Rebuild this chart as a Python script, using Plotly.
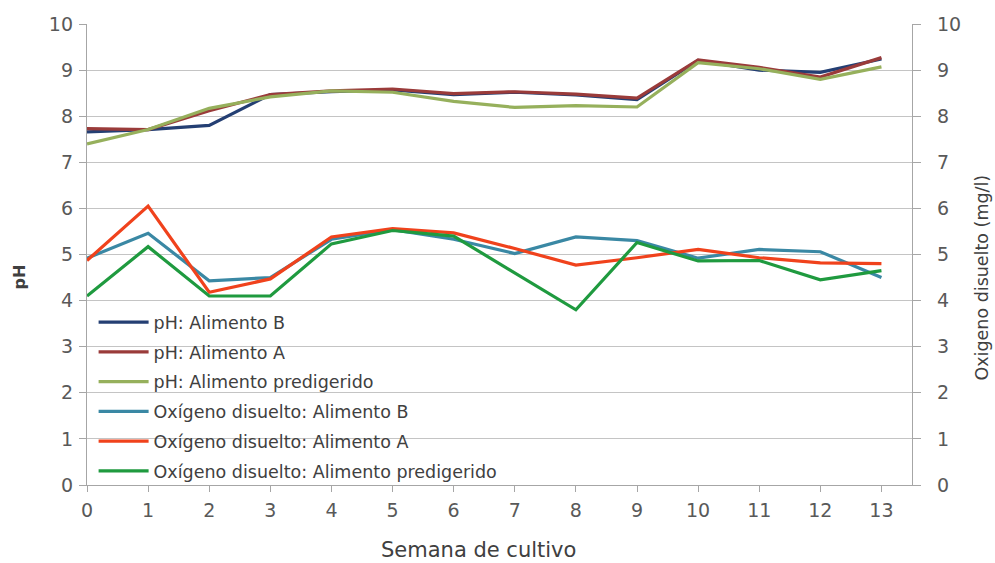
import plotly.graph_objects as go

# Semanas de cultivo
semanas = list(range(14))

# pH por tipo de alimento
ph_alimento_b = [7.66, 7.71, 7.80, 8.47, 8.53, 8.57, 8.47, 8.52, 8.46, 8.36, 9.21, 9.00, 8.95, 9.24]
ph_alimento_a = [7.73, 7.71, 8.12, 8.47, 8.55, 8.59, 8.49, 8.53, 8.48, 8.39, 9.22, 9.06, 8.85, 9.27]
ph_predigerido = [7.40, 7.71, 8.17, 8.42, 8.55, 8.52, 8.32, 8.19, 8.23, 8.20, 9.16, 9.03, 8.80, 9.07]

# Oxígeno disuelto (mg/l) por tipo de alimento
od_alimento_b = [4.92, 5.46, 4.43, 4.50, 5.33, 5.54, 5.33, 5.02, 5.38, 5.30, 4.92, 5.11, 5.06, 4.50]
od_alimento_a = [4.87, 6.05, 4.18, 4.47, 5.38, 5.56, 5.47, 5.13, 4.77, 4.93, 5.11, 4.93, 4.82, 4.80]
od_predigerido = [4.10, 5.17, 4.10, 4.10, 5.23, 5.52, 5.40, 4.60, 3.80, 5.26, 4.86, 4.87, 4.45, 4.65]

ticks_y = list(range(0, 11))
grid_y = list(range(1, 10))

series = [
    ("pH: Alimento B", ph_alimento_b, "#243f73", "y"),
    ("pH: Alimento A", ph_alimento_a, "#9a3b3a", "y"),
    ("pH: Alimento predigerido", ph_predigerido, "#96b05c", "y"),
    ("Oxígeno disuelto: Alimento B", od_alimento_b, "#3a88a4", "y2"),
    ("Oxígeno disuelto: Alimento A", od_alimento_a, "#f0421c", "y2"),
    ("Oxígeno disuelto: Alimento predigerido", od_predigerido, "#1f9a3f", "y2"),
]

FONT = "DejaVu Sans"
GRID = "#c4c4c4"
AXIS = "#a6a6a6"
TICK_FONT = dict(size=19, color="#595959", family=FONT)

fig = go.Figure()

# invisible trace that carries the horizontal gridlines axis
fig.add_trace(go.Scatter(x=[0], y=[0], yaxis="y3", mode="markers",
                         marker=dict(opacity=0), showlegend=False,
                         hoverinfo="skip"))

for i, (name, vals, color, ax) in enumerate(series):
    fig.add_trace(go.Scatter(
        x=semanas, y=vals, name=name, yaxis=ax, mode="lines",
        line=dict(color=color, width=3.2),
        legendgroup=f"g{i}",
    ))

fig.update_layout(
    width=995, height=563,
    margin=dict(l=87, r=83, t=24, b=78, autoexpand=False),
    paper_bgcolor="white", plot_bgcolor="white",
    font=dict(family=FONT, color="#595959"),
    xaxis=dict(
        range=[0, 13.5], tickmode="array", tickvals=semanas,
        showgrid=False, zeroline=False, automargin=False,
        showline=True, linecolor=AXIS, linewidth=1.3,
        ticks="outside", ticklen=6, tickcolor=AXIS,
        tickfont=TICK_FONT, ticklabelstandoff=2,
    ),
    yaxis=dict(
        range=[0, 10], tickvals=ticks_y, showgrid=False, zeroline=False,
        automargin=False,
        showline=True, linecolor=AXIS, linewidth=1.3,
        ticks="outside", ticklen=7, tickcolor=AXIS,
        tickfont=TICK_FONT, ticklabelstandoff=2,
    ),
    yaxis2=dict(
        range=[0, 10], tickvals=ticks_y, overlaying="y", side="right",
        showgrid=False, zeroline=False, automargin=False,
        showline=True, linecolor=AXIS, linewidth=1.3,
        ticks="outside", ticklen=8, tickcolor=AXIS,
        tickfont=TICK_FONT, ticklabelstandoff=12,
    ),
    yaxis3=dict(
        range=[0, 10], tickvals=grid_y, overlaying="y", automargin=False,
        showgrid=True, gridcolor=GRID, gridwidth=1.3,
        showticklabels=False, ticks="", showline=False, zeroline=False,
    ),
    legend=dict(
        x=0.008, y=0.392, xanchor="left", yanchor="top",
        bgcolor="rgba(0,0,0,0)", borderwidth=0,
        font=dict(size=17.5, color="#404040", family=FONT),
        tracegroupgap=4, itemwidth=50,
    ),
    showlegend=True,
)

# Axis titles
fig.add_annotation(text="Semana de cultivo", showarrow=False,
                   xref="paper", yref="paper", x=0.474, y=0,
                   xanchor="center", yanchor="middle", yshift=-65,
                   font=dict(size=21, color="#404040", family=FONT))
fig.add_annotation(text="<b>pH</b>", textangle=-90, showarrow=False,
                   xref="paper", yref="paper", x=0, y=0.45,
                   xanchor="center", yanchor="middle", xshift=-67,
                   font=dict(size=16, color="#404040", family=FONT))
fig.add_annotation(text="Oxigeno disuelto (mg/l)", textangle=-90, showarrow=False,
                   xref="paper", yref="paper", x=1, y=0.45,
                   xanchor="center", yanchor="middle", xshift=70,
                   font=dict(size=17.5, color="#404040", family=FONT))

fig.write_html("out.html")
